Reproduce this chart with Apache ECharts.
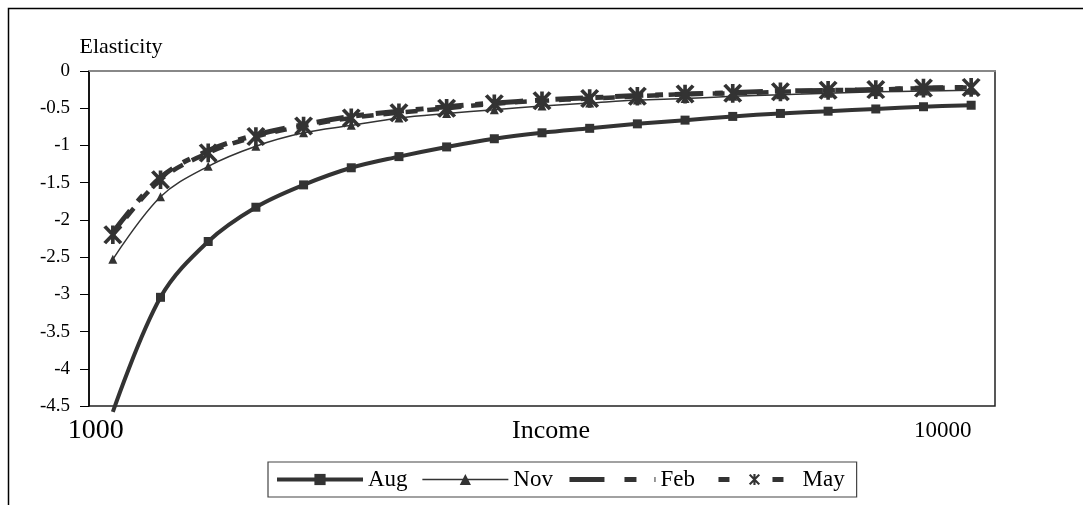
<!DOCTYPE html>
<html>
<head>
<meta charset="utf-8">
<script src="https://cdn.jsdelivr.net/npm/echarts@6/dist/echarts.min.js"></script>
<style>
html,body{margin:0;padding:0;background:#fff;}
#chart{width:1083px;height:505px;}
</style>
</head>
<body>
<div id="chart"></div>
<script>
const incomes = [1000,1500,2000,2500,3000,3500,4000,4500,5000,5500,6000,6500,7000,7500,8000,8500,9000,9500,10000];
const aug = [-4.58,-3.04,-2.29,-1.83,-1.53,-1.30,-1.15,-1.02,-0.91,-0.83,-0.77,-0.71,-0.66,-0.61,-0.57,-0.54,-0.51,-0.48,-0.46];
const nov = [-2.53,-1.69,-1.28,-1.01,-0.83,-0.73,-0.63,-0.57,-0.52,-0.47,-0.43,-0.39,-0.37,-0.34,-0.32,-0.30,-0.28,-0.27,-0.26];
const feb = [-2.17,-1.43,-1.07,-0.86,-0.72,-0.61,-0.54,-0.48,-0.43,-0.39,-0.36,-0.33,-0.31,-0.29,-0.27,-0.26,-0.25,-0.23,-0.22];
const may = [-2.20,-1.46,-1.10,-0.88,-0.74,-0.63,-0.56,-0.50,-0.44,-0.40,-0.37,-0.34,-0.31,-0.30,-0.28,-0.26,-0.25,-0.23,-0.22];
const yTicks = {min:-4.5, max:0, interval:0.5};

const FONT = '"Liberation Serif","Times New Roman",serif';
const INK = '#333333';
const asterisk = 'path://M-1.8,-10L1.8,-10L1.8,10L-1.8,10Z' +
  'M-6.6,-10.2L9.4,7.8L6.6,10.2L-9.4,-7.8Z' +
  'M9.4,-7.8L-6.6,10.2L-9.4,7.8L6.6,-10.2Z';
const noMark = 'path://M0,0L0,0M10,10L10,10';

const chart = echarts.init(document.getElementById('chart'));
chart.setOption({
  animation:false,
  backgroundColor:'#fff',
  graphic:[{type:'rect',shape:{x:8.5,y:8.5,width:1200,height:600},
    style:{fill:'none',stroke:'#000',lineWidth:1.5},silent:true}],
  grid:{left:89,right:88,top:71,bottom:99,show:true,borderColor:'#222',borderWidth:1.5,backgroundColor:'transparent'},
  legend:{
    left:268, top:462, orient:'horizontal',
    padding:[6,12,6,7], itemGap:14, itemWidth:86, itemHeight:14,
    borderColor:'#444', borderWidth:1.2, backgroundColor:'#fff',
    textStyle:{fontFamily:FONT,fontSize:23,color:'#000'},
    data:[
      {name:'Aug', lineStyle:{width:4,color:INK}},
      {name:'Nov', lineStyle:{width:1.5,color:INK}},
      {name:'Feb', lineStyle:{width:5,color:INK,type:[35,20,12,18]}},
      {name:'May', lineStyle:{width:5,color:INK,type:[0,7,11,43,11,30]}}
    ]
  },
  xAxis:{
    type:'category', data:incomes, boundaryGap:true,
    name:'Income', nameLocation:'middle', nameGap:25, nameMoveOverlap:false,
    nameTextStyle:{fontFamily:FONT,fontSize:26,color:'#000',verticalAlign:'middle',padding:[0,0,0,18]},
    axisLine:{show:true,lineStyle:{color:'#888',width:2}},
    axisTick:{show:false},
    splitLine:{show:false},
    axisLabel:{
      interval:function(i){return i===0 || i===incomes.length-1;},
      margin:25, verticalAlign:'middle', color:'#000',
      formatter:function(v,i){return i===0 ? '{a|'+v+'}' : '{b|'+v+'}';},
      rich:{
        a:{fontFamily:FONT,fontSize:28,color:'#000',padding:[0,34,0,0]},
        b:{fontFamily:FONT,fontSize:23,color:'#000',padding:[0,57,0,0]}
      }
    }
  },
  yAxis:{
    type:'value', min:yTicks.min, max:yTicks.max, interval:yTicks.interval,
    name:'Elasticity', nameLocation:'end', nameGap:24, nameMoveOverlap:false,
    nameTextStyle:{fontFamily:FONT,fontSize:22,color:'#000',align:'center',verticalAlign:'middle',padding:[0,0,0,64]},
    axisLine:{show:true,lineStyle:{color:'#000',width:1.5}},
    axisTick:{show:true,length:9,lineStyle:{color:'#000',width:1}},
    splitLine:{show:false},
    axisLabel:{margin:19,fontFamily:FONT,fontSize:19,color:'#000',
      formatter:function(v){return String(Math.round(v*10)/10);}}
  },
  series:[
    {name:'Aug',type:'line',smooth:0.35,clip:false,
      data:aug.map(function(v,i){return i===0?{value:v,symbol:'none'}:v;}),
      symbol:'rect',symbolSize:9,
      itemStyle:{color:INK},lineStyle:{color:INK,width:4}},
    {name:'Nov',type:'line',smooth:0.35,data:nov,
      symbol:'triangle',symbolSize:9,
      itemStyle:{color:INK},lineStyle:{color:INK,width:1.5}},
    {name:'Feb',type:'line',smooth:0.35,data:feb,
      symbol:noMark,symbolSize:1,showSymbol:false,
      itemStyle:{color:INK},lineStyle:{color:INK,width:5,type:[28,12,8,12]}},
    {name:'May',type:'line',smooth:0.35,data:may,
      symbol:asterisk,symbolSize:19,
      itemStyle:{color:INK},lineStyle:{color:INK,width:4.5,type:[12,10]}}
  ]
});
</script>
</body>
</html>
